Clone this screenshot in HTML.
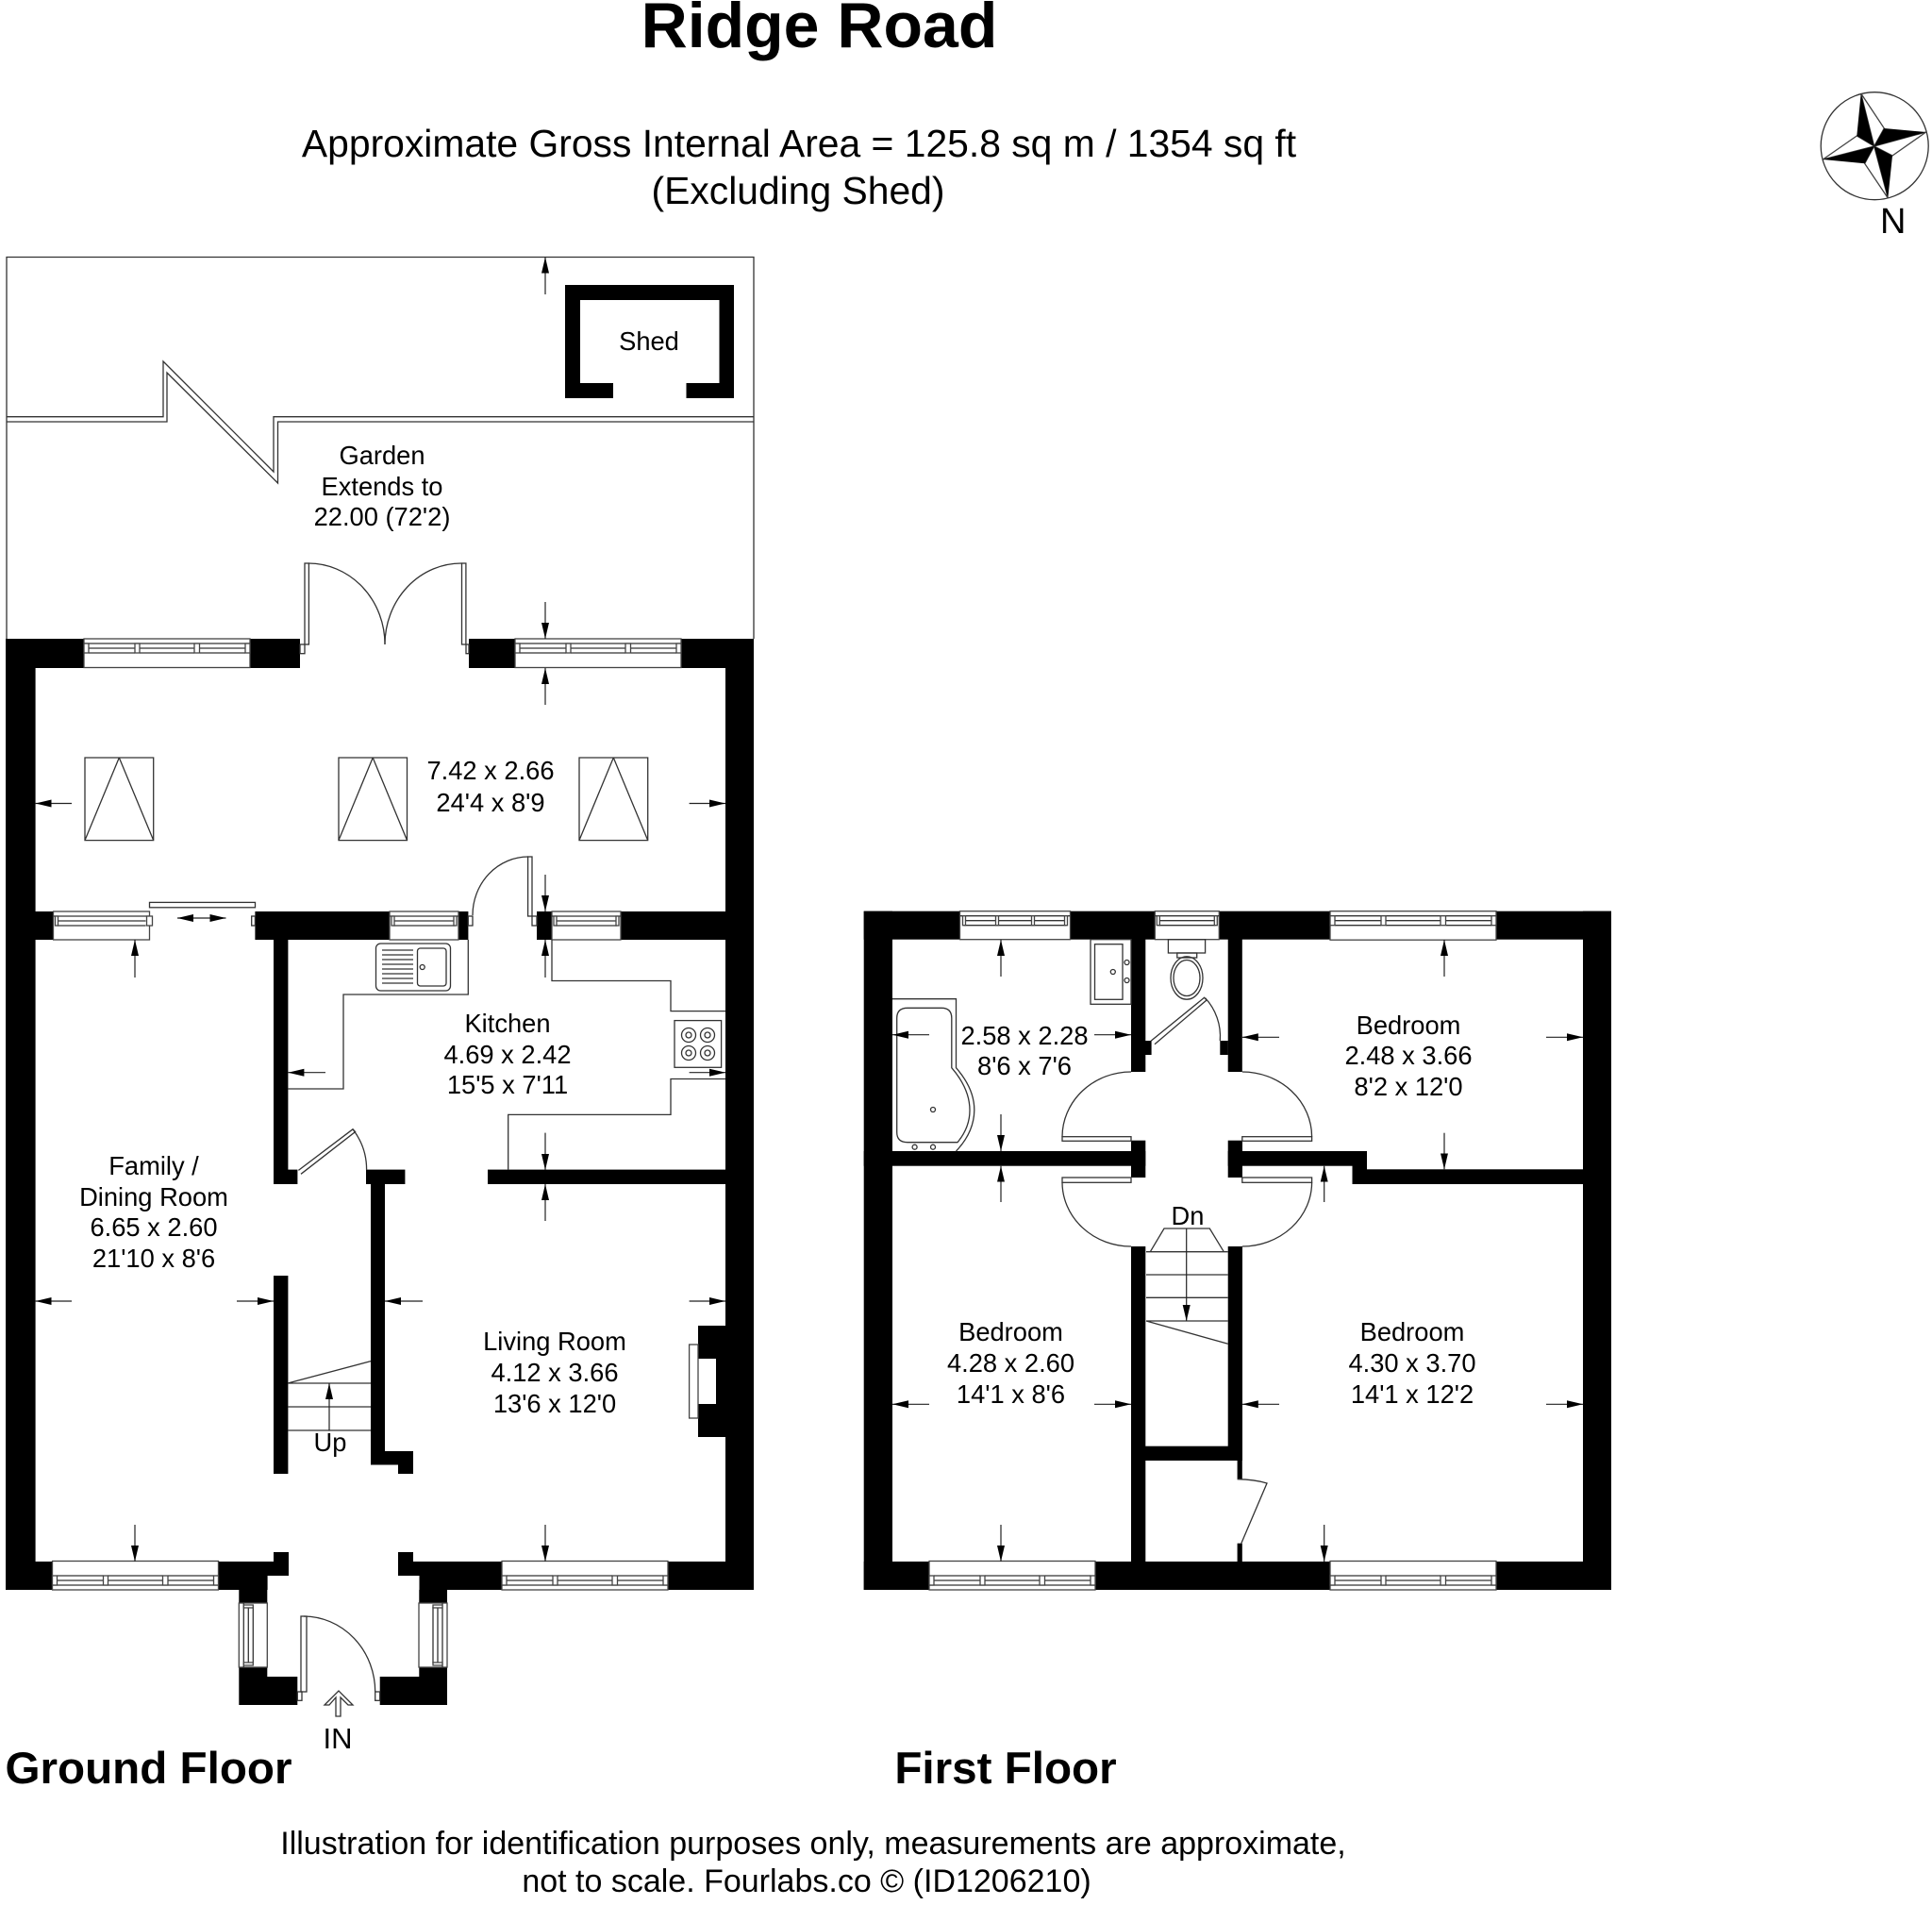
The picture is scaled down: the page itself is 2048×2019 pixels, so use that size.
<!DOCTYPE html>
<html><head><meta charset="utf-8"><title>Ridge Road</title>
<style>
html,body{margin:0;padding:0;background:#fff}
svg{display:block}
text{font-family:"Liberation Sans",sans-serif;fill:#000;text-anchor:middle;font-size:27.3px}
.l{fill:none;stroke:#333;stroke-width:1.3}
.w{fill:#fff;stroke:#444;stroke-width:1.3}
.a{fill:none;stroke:#222;stroke-width:1.2;marker-end:url(#h)}
.b{fill:#000;stroke:none}
.t{font-size:47.6px;font-weight:bold}
</style></head><body>
<svg width="2048" height="2019" viewBox="0 0 2048 2019" xmlns="http://www.w3.org/2000/svg">
<defs>
<marker id="h" markerUnits="userSpaceOnUse" markerWidth="20" markerHeight="10" refX="17" refY="4.5" orient="auto"><path d="M0,0.5 L17,4.5 L0,8.5z" fill="#000"/></marker>
<g id="w176"><rect class="w" width="176" height="30.5"/><path class="l" d="M0 5H176M5 10H54M59 10H117M123 10H171M5 15H54M59 15H117M123 15H171"/><rect class="w" y="5" width="5" height="10"/><rect class="w" x="54" y="5" width="5" height="10"/><rect class="w" x="117" y="5" width="5.5" height="10"/><rect class="w" x="171" y="5" width="5" height="10"/></g>
<g id="w117"><rect class="w" width="117" height="30"/><path class="l" d="M0 5H117M4 10H113M4 15H113"/><rect class="w" x="3" y="5" width="3" height="10"/><rect class="w" x="38" y="5" width="3" height="10"/><rect class="w" x="76" y="5" width="3" height="10"/><rect class="w" x="111" y="5" width="3" height="10"/></g>
<g id="w68"><rect class="w" width="68" height="30"/><path class="l" d="M0 5H68M4 10H64M4 15H64"/><rect class="w" x="2" y="5" width="3" height="10"/><rect class="w" x="63" y="5" width="3" height="10"/></g>
<g id="w73"><rect class="w" width="73" height="30"/><path class="l" d="M0 5H73M4 10H69M4 15H69"/><rect class="w" x="2" y="5" width="3" height="10"/><rect class="w" x="68" y="5" width="3" height="10"/></g>
<g id="w102"><rect class="w" width="102" height="30"/><path class="l" d="M0 5H102M4 10H98M4 15H98"/><rect class="w" x="2" y="5" width="3" height="10"/><rect class="w" x="99" y="5" width="6" height="10"/></g>
</defs>
<rect width="2048" height="2019" fill="#fff"/>

<text x="868.5" y="50" style="font-size:68px;font-weight:bold">Ridge Road</text>
<text x="847" y="166" style="font-size:40.85px">Approximate Gross Internal Area = 125.8 sq m / 1354 sq ft</text>
<text x="846" y="216" style="font-size:40.85px">(Excluding Shed)</text>

<!-- compass -->
<circle class="l" cx="1987.2" cy="154.7" r="57" stroke-width="1.5"/>
<path class="w" d="M1972.7 99L1997.3 136L1986.7 155zM2041.7 140L2006 165L1986.7 155zM2001.3 210L1976.7 173.3L1986.7 155zM1932.3 169L1968.3 144L1986.7 155z"/>
<path class="b" d="M1972.7 99L1968.3 144L1986.7 155zM2041.7 140L1997.3 136L1986.7 155zM2001.3 210L2006 165L1986.7 155zM1932.3 169L1976.7 173.3L1986.7 155z"/>
<text x="2006.7" y="247" style="font-size:38px">N</text>

<!-- GROUND FLOOR garden -->
<path class="l" d="M7 677V272.5H799V677"/>
<path class="l" d="M7 441.7H173V383L290 500V441.7H799M7 447H177V395L294.5 512V447H799"/>
<path class="b" fill-rule="evenodd" d="M599 302H778V422H727.5V406H762.5V318H615V406H650V422H599z"/>
<text x="688" y="371">Shed</text>
<text x="405" y="492">Garden</text>
<text x="405" y="525">Extends to</text>
<text x="405" y="557">22.00 (72'2)</text>

<!-- ground walls -->
<g class="b">
<rect x="6" y="677" width="83" height="31"/><rect x="265" y="677" width="53" height="31"/><rect x="497" y="677" width="49" height="31"/><rect x="722" y="677" width="77" height="31"/>
<rect x="6" y="677" width="31.6" height="1008"/><rect x="769" y="677" width="30" height="1008"/>
<rect x="6" y="966" width="50.5" height="30"/><rect x="270.4" y="966" width="142.6" height="30"/><rect x="486.4" y="966" width="10" height="30"/><rect x="569" y="966" width="16" height="30"/><rect x="658" y="966" width="141" height="30"/>
<rect x="290" y="996" width="15.4" height="244"/><rect x="290" y="1239.6" width="25.4" height="15.4"/><rect x="388" y="1239.6" width="41.4" height="15.4"/><rect x="393" y="1255" width="15" height="297.5"/><rect x="393" y="1538" width="45" height="14.5"/><rect x="422" y="1552" width="16" height="10"/><rect x="517" y="1239.6" width="252" height="15.4"/>
<rect x="290" y="1352" width="15.4" height="210"/>
<path fill-rule="evenodd" d="M740 1405H769V1523H740zM740 1440V1488H759V1440z"/>
<rect x="6" y="1655" width="49.5" height="30"/><rect x="230.6" y="1655" width="75.4" height="15"/><rect x="290" y="1645" width="16" height="25"/><rect x="230.6" y="1670" width="53" height="15"/>
<rect x="422" y="1645" width="16" height="25"/><rect x="422" y="1655" width="110.4" height="15"/><rect x="444.5" y="1670" width="88" height="15"/><rect x="707.6" y="1655" width="91.4" height="30"/>
<rect x="253.3" y="1685" width="30" height="14"/><rect x="253.3" y="1767" width="30" height="10"/><rect x="253.3" y="1777" width="62" height="30"/>
<rect x="402.7" y="1777" width="71.3" height="30"/><rect x="444.3" y="1767" width="29.7" height="10"/><rect x="444.3" y="1685" width="29.7" height="14"/>
</g>

<!-- ground windows -->
<use href="#w176" x="89" y="677"/><use href="#w176" x="546" y="677"/>
<use href="#w102" x="56.5" y="966"/><use href="#w73" x="413" y="966"/><use href="#w73" x="585" y="966"/>
<use href="#w176" transform="translate(55.5,1685) scale(1,-1)"/><use href="#w176" transform="translate(532,1685) scale(1,-1)"/>
<use href="#w68" transform="matrix(0,1,1,0,253.3,1699)"/><use href="#w68" transform="matrix(0,1,-1,0,474,1699)"/>

<!-- ground doors -->
<g class="l">
<rect x="323" y="597" width="4.4" height="86"/><rect x="318" y="683" width="5" height="9.7"/><path d="M327 597A81 86 0 0 1 408 683"/>
<rect x="489.5" y="597" width="4.4" height="86"/><rect x="494" y="683" width="3" height="9.7"/><path d="M489.5 597A81 86 0 0 0 408 683"/>
<rect x="559.6" y="908" width="4.4" height="63"/><path d="M560 908A59 62 0 0 0 501 970"/><rect x="496.3" y="971" width="4.7" height="10"/><rect x="564" y="971" width="5" height="10"/>
<rect x="158.5" y="956.4" width="112" height="5.4"/><rect x="266.7" y="971" width="3.7" height="10"/>
<path d="M316.4 1240.4L374 1196.8L376.6 1199.5L319 1244.3"/><path d="M374 1196.8A70 70 0 0 1 388.6 1240"/>
<rect x="319" y="1713" width="6" height="80"/><rect x="315.3" y="1793" width="4.7" height="9.3"/><path d="M322 1713A76 80 0 0 1 397.7 1793"/><rect x="397.7" y="1793" width="5" height="9.3"/>
</g>
<!-- sliding arrows -->
<path class="a" d="M214 973H188"/><path class="a" d="M214 973H239.5"/>

<!-- skylights -->
<path class="l" d="M90 803H162.7V890.6H90zM126.3 803L90 890.6M126.3 803L162.7 890.6M359 803H431.5V890.6H359zM395.2 803L359 890.6M395.2 803L431.5 890.6M614 803H686.7V890.6H614zM650.3 803L614 890.6M650.3 803L686.7 890.6"/>

<!-- kitchen fittings -->
<path class="l" d="M496.3 996V1054H364V1154H305M585 996V1039.5H711V1071.6H769M769 1143.5H711V1181.4H538.7V1240"/>
<rect class="l" x="398.5" y="1000" width="79" height="50" rx="5"/><rect class="l" x="442.5" y="1005" width="30.5" height="40" rx="3"/>
<path class="l" d="M405 1007H438M405 1012H438M405 1017H438M405 1022H438M405 1027H438M405 1032H438M405 1037H438M405 1042H438"/>
<circle class="l" cx="447.7" cy="1025" r="2.5"/>
<rect class="l" x="715" y="1081.6" width="49.6" height="49.7"/>
<g class="l"><circle cx="730" cy="1097" r="7.5"/><circle cx="730" cy="1097" r="3"/><circle cx="750" cy="1097" r="7.5"/><circle cx="750" cy="1097" r="3"/><circle cx="730" cy="1116" r="7.5"/><circle cx="730" cy="1116" r="3"/><circle cx="750" cy="1116" r="7.5"/><circle cx="750" cy="1116" r="3"/></g>
<rect class="w" x="730.6" y="1425" width="9.4" height="78"/>

<!-- stairs -->
<path class="l" d="M305 1466H393M305 1491H393M305 1516H393M305 1466L393 1442.6"/>

<!-- ground arrows -->
<path class="a" d="M578 312V272.5"/><path class="a" d="M578 638V677"/><path class="a" d="M578 747V708"/>
<path class="a" d="M76 851.5H37.6"/><path class="a" d="M730.6 851.5H769"/>
<path class="a" d="M578 927V966"/><path class="a" d="M578 1036V996"/><path class="a" d="M143 1036V996"/>
<path class="a" d="M345 1136.7H305.4"/><path class="a" d="M730.6 1136.7H769"/>
<path class="a" d="M578 1200.6V1240"/><path class="a" d="M578 1294V1255"/>
<path class="a" d="M76 1379H37.6"/><path class="a" d="M251 1379H290"/><path class="a" d="M448 1379H408"/><path class="a" d="M730.6 1379H769"/>
<path class="a" d="M143 1616V1655"/><path class="a" d="M578 1616V1655"/><path class="a" d="M349 1516V1466"/>
<!-- IN arrow -->
<path class="l" d="M344 1807L359 1792L374 1807H369L361 1799V1819H356V1799L349 1807z"/>

<text x="520" y="826">7.42 x 2.66</text><text x="520" y="860">24'4 x 8'9</text>
<text x="538" y="1094">Kitchen</text><text x="538" y="1127">4.69 x 2.42</text><text x="538" y="1159">15'5 x 7'11</text>
<text x="163" y="1245">Family /</text><text x="163" y="1278">Dining Room</text><text x="163" y="1310">6.65 x 2.60</text><text x="163" y="1343">21'10 x 8'6</text>
<text x="588" y="1431">Living Room</text><text x="588" y="1464">4.12 x 3.66</text><text x="588" y="1497">13'6 x 12'0</text>
<text x="350" y="1538">Up</text>
<text x="358" y="1853" style="font-size:31px">IN</text>
<text x="157.5" y="1890" class="t">Ground Floor</text>

<!-- FIRST FLOOR walls -->
<g class="b">
<rect x="915.7" y="965.7" width="102" height="30"/><rect x="1134.3" y="965.7" width="90" height="30"/><rect x="1292" y="965.7" width="118" height="30"/><rect x="1585" y="965.7" width="123" height="30"/>
<rect x="915.7" y="965.7" width="30.3" height="719.3"/><rect x="1678" y="965.7" width="30" height="719.3"/>
<rect x="915.7" y="1655" width="69.3" height="30"/><rect x="1160" y="1655" width="250" height="30"/><rect x="1585" y="1655" width="123" height="30"/>
<rect x="1199" y="995" width="15.3" height="141"/><rect x="1214" y="1103" width="6.6" height="15"/>
<rect x="1301.7" y="995" width="15.1" height="141"/><rect x="1293.3" y="1103" width="8.5" height="15"/>
<rect x="1199" y="1208.7" width="15.3" height="39.3"/><rect x="1301.7" y="1208.7" width="15.3" height="39.3"/>
<rect x="915.7" y="1220" width="298.6" height="15.7"/>
<rect x="1301.7" y="1220" width="147.3" height="15.7"/><rect x="1433.5" y="1220" width="15.5" height="35"/><rect x="1433.5" y="1239.3" width="274.5" height="15.7"/>
<rect x="1199" y="1321" width="15.3" height="335"/><rect x="1301.7" y="1321" width="15.3" height="227"/>
<rect x="1199" y="1532.7" width="118" height="15.3"/>
<rect x="1311.6" y="1548" width="5.2" height="19.7"/><rect x="1311.6" y="1635.7" width="5.2" height="20"/>
</g>
<!-- first floor windows -->
<use href="#w117" x="1017.5" y="965.7"/><use href="#w68" x="1224.3" y="965.7"/><use href="#w176" x="1410" y="965.7"/>
<use href="#w176" transform="translate(985,1685) scale(1,-1)"/><use href="#w176" transform="translate(1410,1685) scale(1,-1)"/>

<!-- first floor doors -->
<g class="l">
<rect x="1126" y="1204.7" width="73" height="4.6"/><path d="M1126 1204.7A73 69 0 0 1 1199 1136"/>
<rect x="1316.8" y="1204.7" width="73.8" height="4.6"/><path d="M1390.6 1204.7A73.8 69 0 0 0 1316.8 1136"/>
<rect x="1126" y="1248" width="73" height="5.3"/><path d="M1126 1253A73 68 0 0 0 1199 1321"/>
<rect x="1316.8" y="1248" width="73.8" height="5.3"/><path d="M1390.6 1253A73.8 68 0 0 1 1316.8 1321"/>
<path d="M1220 1103.3L1276.6 1057.3L1279 1060L1224 1106.7"/><path d="M1277.6 1057.7A60 60 0 0 1 1293.3 1103"/>
<path d="M1311.6 1567.7Q1330 1568 1343 1572L1315.8 1635.7"/>
<!-- WC -->
<rect x="1238.4" y="995.7" width="39.2" height="14.3"/><rect x="1247.8" y="1010" width="20.9" height="5"/>
<ellipse cx="1258" cy="1036.5" rx="17" ry="22.7"/><ellipse cx="1258" cy="1036.5" rx="14" ry="19"/>
<!-- basin -->
<rect x="1156" y="995.7" width="43" height="68.6"/><rect x="1160.5" y="1000.7" width="29.5" height="58.6"/>
<circle cx="1179.8" cy="1030" r="2.5"/><circle cx="1194.5" cy="1020" r="2.5"/><circle cx="1194.5" cy="1039" r="2.5"/>
<!-- bath -->
<path d="M946 1058.7H1013.5V1131.7Q1033 1154 1032.8 1176.7Q1032.5 1200 1013.5 1220"/>
<path d="M962 1068.3H998Q1008.8 1068.3 1008.8 1079V1131.7Q1028 1154 1028 1176.7Q1028 1195 1015 1210.7H962Q950.7 1210.7 950.7 1200V1079Q950.7 1068.3 962 1068.3z"/>
<circle cx="989" cy="1176" r="2.5"/><circle cx="969.6" cy="1215.7" r="2.5"/><circle cx="989" cy="1215.7" r="2.5"/>
<!-- stairs -->
<path d="M1219.3 1326.7L1234 1302H1282.3L1297.3 1326.7M1215 1326.7H1301.7M1215 1351H1301.7M1215 1375.3H1301.7M1215 1400H1301.7M1215 1400L1301.7 1424.3"/>
</g>
<path class="a" d="M1257.7 1302V1400"/>

<!-- first floor arrows -->
<path class="a" d="M1061 1035V996"/><path class="a" d="M985 1096.7H946"/><path class="a" d="M1160 1096.7H1199"/>
<path class="a" d="M1061 1181V1220"/><path class="a" d="M1061 1274V1235.7"/>
<path class="a" d="M1531 1035V996"/><path class="a" d="M1356 1099.3H1316.8"/><path class="a" d="M1639 1099.3H1678"/>
<path class="a" d="M1531 1200.7V1239.3"/><path class="a" d="M1403.7 1274V1235.7"/>
<path class="a" d="M985 1488.3H946"/><path class="a" d="M1160 1488.3H1199"/><path class="a" d="M1356 1488.3H1316.8"/><path class="a" d="M1639 1488.3H1678"/>
<path class="a" d="M1061 1616V1655"/><path class="a" d="M1403.7 1616V1655"/>

<text x="1086" y="1107">2.58 x 2.28</text><text x="1086" y="1139">8'6 x 7'6</text>
<text x="1493" y="1096">Bedroom</text><text x="1493" y="1128">2.48 x 3.66</text><text x="1493" y="1161">8'2 x 12'0</text>
<text x="1259" y="1298">Dn</text>
<text x="1071.5" y="1421">Bedroom</text><text x="1071.5" y="1454">4.28 x 2.60</text><text x="1071.5" y="1487">14'1 x 8'6</text>
<text x="1497" y="1421">Bedroom</text><text x="1497" y="1454">4.30 x 3.70</text><text x="1497" y="1487">14'1 x 12'2</text>
<text x="1066" y="1890" class="t">First Floor</text>

<text x="862" y="1965" style="font-size:34px">Illustration for identification purposes only, measurements are approximate,</text>
<text x="855" y="2005" style="font-size:34px">not to scale. Fourlabs.co © (ID1206210)</text>
</svg>
</body></html>
